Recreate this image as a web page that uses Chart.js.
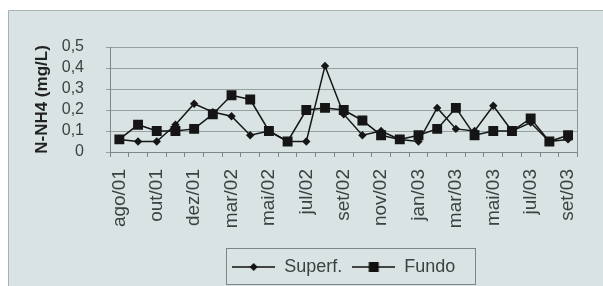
<!DOCTYPE html>
<html>
<head>
<meta charset="utf-8">
<script src="https://cdn.jsdelivr.net/npm/chart.js@4/dist/chart.umd.min.js"></script>
<style>
html,body{margin:0;padding:0;background:#ffffff;}
#wrap{width:603px;height:286px;position:relative;}
</style>
</head>
<body>
<div id="wrap"><canvas id="c" width="603" height="286"></canvas></div>
<script>
const categories = ['ago/01','set/01','out/01','nov/01','dez/01','jan/02','mar/02','abr/02','mai/02','jun/02','jul/02','ago/02','set/02','out/02','nov/02','dez/02','jan/03','fev/03','mar/03','abr/03','mai/03','jun/03','jul/03','ago/03','set/03'];
const superfValues = [0.06,0.05,0.05,0.13,0.23,0.19,0.17,0.08,0.10,0.05,0.05,0.41,0.18,0.08,0.10,0.06,0.05,0.21,0.11,0.10,0.22,0.10,0.14,0.05,0.06];
const fundoValues = [0.06,0.13,0.10,0.10,0.11,0.18,0.27,0.25,0.10,0.05,0.20,0.21,0.20,0.15,0.08,0.06,0.08,0.11,0.21,0.08,0.10,0.10,0.16,0.05,0.08];
const yTicks = [0, 0.1, 0.2, 0.3, 0.4, 0.5];
const seriesNames = ['Superf.', 'Fundo'];
const yTitle = 'N-NH4 (mg/L)';

const BG = '#d9e3e3';
const TEXT = '#3c4242';
const GRID = '#95a0a0';

function legendIcon(kind) {
  const cv = document.createElement('canvas');
  cv.width = 43; cv.height = 14;
  const g = cv.getContext('2d');
  g.strokeStyle = '#111'; g.lineWidth = 1.5;
  g.beginPath(); g.moveTo(0, 7); g.lineTo(43, 7); g.stroke();
  g.fillStyle = '#111';
  if (kind === 'diamond') {
    g.beginPath(); g.moveTo(21.5, 3); g.lineTo(25.5, 7); g.lineTo(21.5, 11); g.lineTo(17.5, 7); g.closePath(); g.fill();
  } else {
    g.fillRect(16.5, 2, 10, 10);
  }
  return cv;
}
const icons = [legendIcon('diamond'), legendIcon('square')];

const bgPlugin = {
  id: 'bgPlugin',
  beforeDraw(chart) {
    const ctx = chart.ctx;
    ctx.save();
    ctx.fillStyle = '#ffffff';
    ctx.fillRect(0, 0, chart.width, chart.height);
    ctx.fillStyle = BG;
    ctx.fillRect(8.5, 10.5, chart.width, chart.height);
    ctx.strokeStyle = '#a9b2b2';
    ctx.lineWidth = 1;
    ctx.beginPath();
    ctx.moveTo(8.5, chart.height); ctx.lineTo(8.5, 10.5); ctx.lineTo(chart.width, 10.5);
    ctx.stroke();
    ctx.restore();
  },
  afterDatasetsDraw(chart) {
    const ctx = chart.ctx, a = chart.chartArea;
    ctx.save();
    ctx.strokeStyle = '#8a9494';
    ctx.lineWidth = 1;
    ctx.beginPath();
    ctx.moveTo(Math.round(a.right) + 0.5, a.top);
    ctx.lineTo(Math.round(a.right) + 0.5, a.bottom);
    ctx.stroke();
    const lg = chart.legend;
    if (lg && lg.legendHitBoxes && lg.legendHitBoxes.length) {
      const hb = lg.legendHitBoxes;
      let l = Infinity, r = -Infinity;
      hb.forEach(h => { l = Math.min(l, h.left); r = Math.max(r, h.left + h.width); });
      ctx.strokeStyle = '#7d8686';
      ctx.strokeRect(Math.round(l - 6) + 0.5, 248.5, Math.round(r - l + 26), 36);
    }
    ctx.restore();
  }
};

new Chart(document.getElementById('c'), {
  type: 'line',
  data: {
    labels: categories,
    datasets: [
      {
        label: seriesNames[0],
        data: superfValues,
        borderColor: '#151515',
        backgroundColor: '#151515',
        borderWidth: 1.5,
        pointStyle: 'rectRot',
        pointRadius: 4.2,
        pointBorderWidth: 0,
        tension: 0,
        fill: false
      },
      {
        label: seriesNames[1],
        data: fundoValues,
        borderColor: '#151515',
        backgroundColor: '#151515',
        borderWidth: 1.5,
        pointStyle: 'rect',
        pointRadius: 7,
        pointBorderWidth: 0,
        tension: 0,
        fill: false
      }
    ]
  },
  options: {
    responsive: false,
    devicePixelRatio: 1,
    animation: false,
    layout: { padding: { left: 24, right: 5, top: 47, bottom: 0 } },
    plugins: {
      tooltip: { enabled: false },
      legend: {
        position: 'bottom',
        fullSize: false,
        labels: {
          usePointStyle: true,
          pointStyleWidth: 43,
          padding: 10,
          color: TEXT,
          font: { family: 'Liberation Sans, Arial, sans-serif', size: 18 },
          generateLabels(chart) {
            return chart.data.datasets.map((ds, i) => ({
              text: ds.label,
              pointStyle: icons[i],
              fillStyle: '#111',
              strokeStyle: '#111',
              lineWidth: 0,
              hidden: false,
              datasetIndex: i,
              fontColor: TEXT
            }));
          }
        }
      }
    },
    scales: {
      x: {
        type: 'category',
        offset: true,
        grid: { offset: true, drawOnChartArea: false, drawTicks: true, tickLength: 5, color: '#7d8686' },
        border: { display: true, color: '#7d8686', width: 1 },
        ticks: {
          autoSkip: false,
          maxRotation: 90,
          minRotation: 90,
          padding: 12,
          color: TEXT,
          font: { family: 'Liberation Sans, Arial, sans-serif', size: 19 },
          callback(value, index) { return index % 2 === 0 ? this.getLabelForValue(value) : ''; }
        },
        afterFit(scale) { scale.height = 96; }
      },
      y: {
        min: 0,
        max: 0.5,
        afterBuildTicks(scale) { scale.ticks = yTicks.map(v => ({ value: v })); },
        grid: { color: GRID, lineWidth: 1, drawTicks: true, tickLength: 4 },
        border: { display: true, color: '#7d8686', width: 1 },
        ticks: {
          autoSkip: false,
          padding: 22,
          color: TEXT,
          font: { family: 'Liberation Sans, Arial, sans-serif', size: 16 },
          callback(value) { return value === 0 ? '0' : value.toFixed(1).replace('.', ','); }
        },
        title: {
          display: true,
          text: yTitle,
          color: '#222',
          padding: { top: 8, bottom: 0 },
          font: { family: 'Liberation Sans, Arial, sans-serif', size: 17, weight: 'bold' }
        },
        afterFit(scale) { scale.width = 86; }
      }
    }
  },
  plugins: [bgPlugin]
});
</script>
</body>
</html>
